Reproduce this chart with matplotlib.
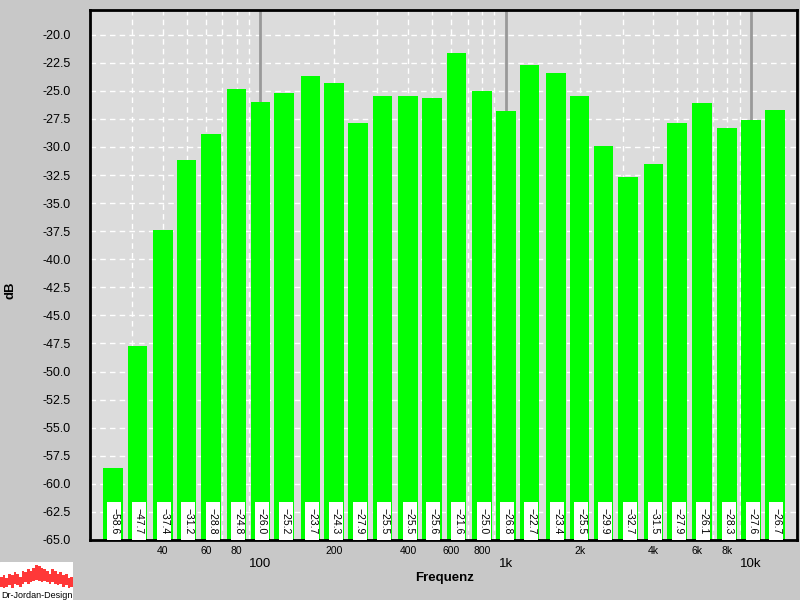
import numpy as np
import matplotlib
matplotlib.use("Agg")
import matplotlib.pyplot as plt
from matplotlib.ticker import FixedLocator, FixedFormatter

plt.rcParams['font.family'] = ['Liberation Sans', 'DejaVu Sans']

# Terzbaender (Hz) und Pegel (dB)
frequenzen = [25, 31.5, 40, 50, 63, 80, 100, 125, 160, 200, 250, 315, 400, 500,
              630, 800, 1000, 1250, 1600, 2000, 2500, 3150, 4000, 5000, 6300,
              8000, 10000, 12500]
pegel = [-58.6, -47.7, -37.4, -31.2, -28.8, -24.8, -26.0, -25.2, -23.7, -24.3,
         -27.9, -25.5, -25.5, -25.6, -21.6, -25.0, -26.8, -22.7, -23.4, -25.5,
         -29.9, -32.7, -31.5, -27.9, -26.1, -28.3, -27.6, -26.7]

major_ticks = [100, 1000, 10000]
major_labels = ["100", "1k", "10k"]
minor_ticks = [40, 60, 80, 200, 400, 600, 800, 2000, 4000, 6000, 8000]
minor_labels = ["40", "60", "80", "200", "400", "600", "800", "2k", "4k", "6k", "8k"]
grid_minor = [20, 30, 40, 50, 60, 70, 80, 90, 200, 300, 400, 500, 600, 700, 800, 900,
              2000, 3000, 4000, 5000, 6000, 7000, 8000, 9000]
y_ticks = np.arange(-65, -19, 2.5)

# Logo-Daten (kleine Balken: Ober- und Unterkante)
logo_oben = [8, 9, 7, 10, 9, 11, 10, 8, 12, 11, 13, 12, 14, 16, 15, 14, 13, 12, 10, 13, 12, 10, 11, 9, 10, 7, 8]
logo_unten = [1, 0, 1, 2, 0, 3, 2, 1, 3, 4, 3, 4, 5, 6, 5, 4, 5, 4, 3, 4, 3, 2, 3, 1, 2, 0, 1]

fig = plt.figure(figsize=(8, 6), dpi=100)
fig.patch.set_facecolor('#c8c8c8')
ax = fig.add_axes([90/800, 60/600, 707/800, 530/600])
ax.set_facecolor('#dcdcdc')
ax.set_xscale('log')
ax.set_xlim(20.2, 15400)
ax.set_ylim(-65, -17.8)

# Gitter
for g in grid_minor:
    ax.axvline(g, color='white', lw=1, ls=(0, (4, 3)), zorder=0)
for yv in y_ticks:
    ax.axhline(yv, color='white', lw=1, ls=(0, (4, 3)), zorder=0)
for m in major_ticks:
    ax.axvline(m, color='#999999', lw=2, zorder=1)

# Balken
f = np.array(frequenzen)
links = f * 10 ** -0.04
breite = f * (10 ** 0.04 - 10 ** -0.04)
hoehe = np.array(pegel) + 65
ax.bar(links, hoehe, width=breite, bottom=-65, align='edge', color='#00ff00', zorder=2)

# weisse Beschriftungsfelder
box_links = f * 10 ** -0.022
box_breite = f * (10 ** 0.035 - 10 ** -0.022)
ax.bar(box_links, np.full(len(f), 3.35), width=box_breite, bottom=-65, align='edge',
       color='white', zorder=3)
for fr, p in zip(frequenzen, pegel):
    ax.text(fr * 10 ** 0.0065, -63.3, f"\u2212{abs(p):.1f}", rotation=-90, ha='center',
            va='center', fontsize=7.5, color='black', zorder=4)

ax.set_yticks(y_ticks)
ax.set_yticklabels([f"{v:.1f}" for v in y_ticks], fontsize=9)
ax.tick_params(axis='y', length=0, pad=14)

ax.xaxis.set_major_locator(FixedLocator(major_ticks))
ax.xaxis.set_major_formatter(FixedFormatter(major_labels))
ax.xaxis.set_minor_locator(FixedLocator(minor_ticks))
ax.xaxis.set_minor_formatter(FixedFormatter(minor_labels))
ax.tick_params(axis='x', which='major', length=0, pad=13, labelsize=9.5)
ax.tick_params(axis='x', which='minor', length=0, pad=4, labelsize=7.5)

for s in ax.spines.values():
    s.set_linewidth(2)
    s.set_color('black')

fig.text(10/800, 1 - 290/600, "dB", rotation=90, ha='center', va='center',
         fontsize=9.5, fontweight='bold')
fig.text(445/800, 1 - 578/600, "Frequenz", ha='center', va='center',
         fontsize=9.5, fontweight='bold')

# Logo
lax = fig.add_axes([0, 0, 73/800, 38/600])
lax.set_xlim(-0.5, len(logo_oben) - 0.5)
lax.set_ylim(-8, 18)
lax.axis('off')
lax.add_patch(plt.Rectangle((-0.5, -8), len(logo_oben), 26, color='white', zorder=0))
lax.bar(np.arange(len(logo_oben)), np.array(logo_oben) - np.array(logo_unten),
        width=1.0, bottom=logo_unten, color='#ff3838', zorder=1)
lax.text(0.02, 0.01, "Dr-Jordan-Design", transform=lax.transAxes, fontsize=6.5,
         ha='left', va='bottom', zorder=2)

fig.savefig("out.png", dpi=100, facecolor=fig.get_facecolor())
